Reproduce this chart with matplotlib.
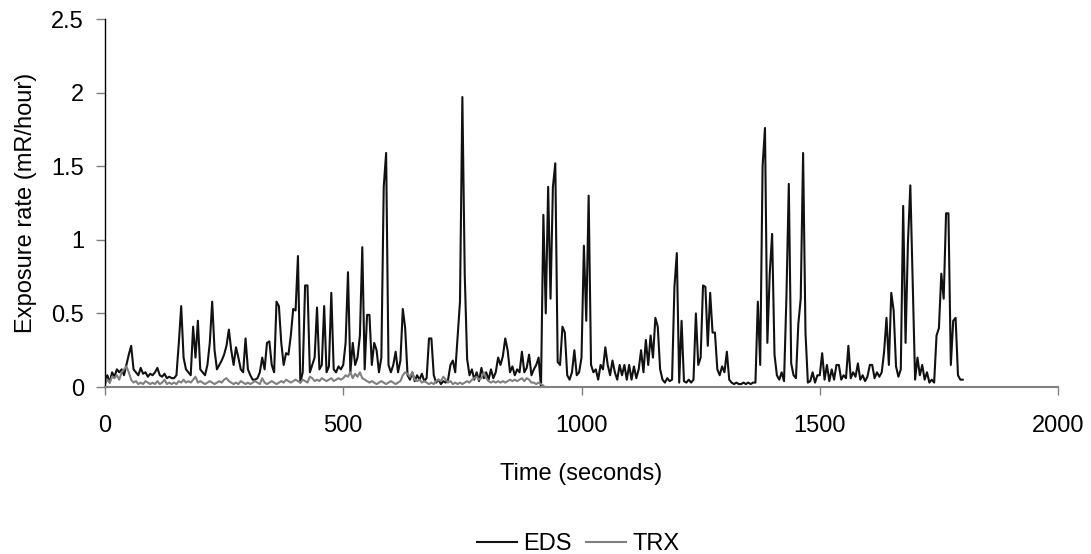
import numpy as np
import matplotlib
matplotlib.use('Agg')
import matplotlib.pyplot as plt

plt.rcParams['font.family'] = ['Liberation Sans', 'DejaVu Sans']

# sample times (s), one reading every 5 s
eds_time = np.arange(0, 1805, 5)
trx_time = np.arange(0, 925, 5)

# EDS exposure rate (mR/hour)
eds_rate = [
    0.05, 0.08, 0.03, 0.10, 0.07, 0.12, 0.10, 0.12, 0.08, 0.15, 0.22, 0.28, 0.12, 0.10, 0.08, 0.13, 0.09, 0.10, 0.07, 0.09,
    0.08, 0.10, 0.13, 0.08, 0.07, 0.09, 0.06, 0.07, 0.06, 0.06, 0.08, 0.30, 0.55, 0.20, 0.12, 0.10, 0.08, 0.41, 0.20, 0.45,
    0.12, 0.10, 0.08, 0.15, 0.30, 0.58, 0.25, 0.12, 0.15, 0.18, 0.22, 0.28, 0.39, 0.25, 0.15, 0.27, 0.20, 0.12, 0.10, 0.33,
    0.12, 0.08, 0.05, 0.05, 0.06, 0.10, 0.20, 0.12, 0.30, 0.31, 0.15, 0.10, 0.58, 0.55, 0.30, 0.15, 0.23, 0.22, 0.35, 0.53,
    0.52, 0.89, 0.03, 0.10, 0.69, 0.69, 0.10, 0.15, 0.20, 0.54, 0.12, 0.15, 0.55, 0.10, 0.14, 0.64, 0.12, 0.10, 0.14, 0.12,
    0.15, 0.30, 0.78, 0.10, 0.30, 0.15, 0.20, 0.35, 0.95, 0.12, 0.49, 0.49, 0.15, 0.30, 0.25, 0.10, 0.20, 1.36, 1.59, 0.15,
    0.10, 0.15, 0.24, 0.10, 0.18, 0.53, 0.40, 0.08, 0.05, 0.10, 0.04, 0.08, 0.05, 0.09, 0.04, 0.06, 0.33, 0.33, 0.08, 0.03,
    0.05, 0.02, 0.04, 0.03, 0.05, 0.15, 0.18, 0.10, 0.34, 0.58, 1.97, 0.76, 0.19, 0.08, 0.12, 0.05, 0.10, 0.04, 0.13, 0.06,
    0.10, 0.05, 0.12, 0.06, 0.10, 0.20, 0.15, 0.21, 0.33, 0.25, 0.10, 0.14, 0.08, 0.12, 0.10, 0.24, 0.10, 0.13, 0.22, 0.08,
    0.12, 0.15, 0.20, 0.00, 1.17, 0.50, 1.36, 0.60, 1.36, 1.52, 0.17, 0.15, 0.41, 0.37, 0.08, 0.05, 0.10, 0.25, 0.08, 0.10,
    0.20, 0.96, 0.45, 1.30, 0.15, 0.10, 0.12, 0.05, 0.15, 0.12, 0.27, 0.15, 0.08, 0.18, 0.10, 0.05, 0.15, 0.08, 0.15, 0.05,
    0.15, 0.05, 0.14, 0.06, 0.12, 0.25, 0.10, 0.32, 0.15, 0.35, 0.20, 0.47, 0.41, 0.12, 0.05, 0.03, 0.06, 0.04, 0.05, 0.68,
    0.91, 0.03, 0.45, 0.04, 0.03, 0.05, 0.03, 0.05, 0.50, 0.15, 0.20, 0.69, 0.68, 0.28, 0.64, 0.37, 0.37, 0.12, 0.08, 0.14,
    0.10, 0.24, 0.05, 0.03, 0.02, 0.03, 0.02, 0.02, 0.03, 0.02, 0.03, 0.02, 0.03, 0.03, 0.58, 0.15, 1.50, 1.76, 0.30, 0.77,
    1.04, 0.22, 0.08, 0.05, 0.10, 0.04, 0.61, 1.38, 0.16, 0.08, 0.06, 0.43, 0.60, 1.59, 0.37, 0.03, 0.04, 0.10, 0.03, 0.08,
    0.08, 0.23, 0.05, 0.15, 0.04, 0.12, 0.05, 0.15, 0.15, 0.05, 0.08, 0.06, 0.28, 0.06, 0.10, 0.07, 0.16, 0.05, 0.08, 0.04,
    0.07, 0.15, 0.15, 0.06, 0.10, 0.07, 0.10, 0.24, 0.47, 0.15, 0.64, 0.52, 0.14, 0.07, 0.12, 1.23, 0.30, 0.98, 1.37, 0.70,
    0.05, 0.20, 0.08, 0.15, 0.05, 0.10, 0.03, 0.05, 0.03, 0.35, 0.40, 0.77, 0.60, 1.18, 1.18, 0.15, 0.45, 0.47, 0.08, 0.05,
    0.05,
]

# TRX exposure rate (mR/hour)
trx_rate = [
    0.02, 0.05, 0.03, 0.07, 0.06, 0.08, 0.05, 0.10, 0.12, 0.14, 0.10, 0.05, 0.03, 0.04, 0.02, 0.03, 0.02, 0.04, 0.03, 0.02,
    0.03, 0.02, 0.04, 0.02, 0.03, 0.05, 0.02, 0.03, 0.02, 0.03, 0.02, 0.04, 0.03, 0.05, 0.03, 0.04, 0.03, 0.05, 0.07, 0.03,
    0.04, 0.03, 0.02, 0.03, 0.04, 0.03, 0.02, 0.03, 0.04, 0.03, 0.05, 0.06, 0.04, 0.03, 0.02, 0.03, 0.02, 0.04, 0.03, 0.02,
    0.03, 0.02, 0.03, 0.04, 0.03, 0.02, 0.06, 0.03, 0.02, 0.03, 0.04, 0.03, 0.02, 0.03, 0.04, 0.03, 0.05, 0.04, 0.03, 0.04,
    0.05, 0.04, 0.03, 0.05, 0.04, 0.03, 0.07, 0.06, 0.04, 0.05, 0.04, 0.06, 0.05, 0.04, 0.05, 0.06, 0.04, 0.05, 0.06, 0.05,
    0.06, 0.08, 0.07, 0.10, 0.06, 0.09, 0.07, 0.10, 0.06, 0.05, 0.04, 0.03, 0.04, 0.03, 0.02, 0.03, 0.04, 0.03, 0.02, 0.03,
    0.04, 0.03, 0.02, 0.03, 0.04, 0.08, 0.10, 0.09, 0.07, 0.10, 0.05, 0.04, 0.05, 0.03, 0.04, 0.03, 0.02, 0.03, 0.02, 0.04,
    0.05, 0.04, 0.07, 0.05, 0.03, 0.04, 0.02, 0.03, 0.02, 0.03, 0.02, 0.03, 0.04, 0.03, 0.05, 0.06, 0.07, 0.05, 0.06, 0.10,
    0.06, 0.04, 0.03, 0.04, 0.03, 0.04, 0.03, 0.04, 0.03, 0.04, 0.05, 0.04, 0.05, 0.04, 0.05, 0.06, 0.04, 0.06, 0.05, 0.03,
    0.03, 0.02, 0.03, 0.02, 0.01,
]

x_ticks = [0, 500, 1000, 1500, 2000]
y_ticks = [0, 0.5, 1, 1.5, 2, 2.5]

fig = plt.figure(figsize=(10.91, 5.54), dpi=100)
ax = fig.add_axes([0.0962, 0.3014, 0.8736, 0.6643])

ax.plot(eds_time, eds_rate, color='#111111', lw=1.5, label='EDS')
ax.plot(trx_time, trx_rate, color='#808080', lw=1.5, label='TRX')

ax.set_xlim(0, 2000)
ax.set_ylim(0, 2.5)
ax.set_xticks(x_ticks)
ax.set_yticks(y_ticks)
ax.set_yticklabels(['0', '0.5', '1', '1.5', '2', '2.5'])

for s in ['top', 'right']:
    ax.spines[s].set_visible(False)
ax.spines['left'].set_color('#000000')
ax.spines['bottom'].set_color('#808080')
ax.spines['left'].set_linewidth(1.0)
ax.spines['bottom'].set_linewidth(1.5)

ax.tick_params(axis='x', direction='out', length=6, width=1, color='#808080',
               labelsize=17, pad=14)
ax.tick_params(axis='y', direction='out', length=6.5, width=1, color='#808080',
               labelsize=17, pad=8.5)

ax.set_xlabel('Time (seconds)', fontsize=17, labelpad=19)
ax.set_ylabel('Exposure rate (mR/hour)', fontsize=17, labelpad=10)

fig.legend(loc='lower center', bbox_to_anchor=(0.53, -0.04), ncol=2, frameon=False,
           fontsize=17, handlelength=1.7, handletextpad=0.25, columnspacing=0.6)

fig.savefig('out.png', dpi=100)
